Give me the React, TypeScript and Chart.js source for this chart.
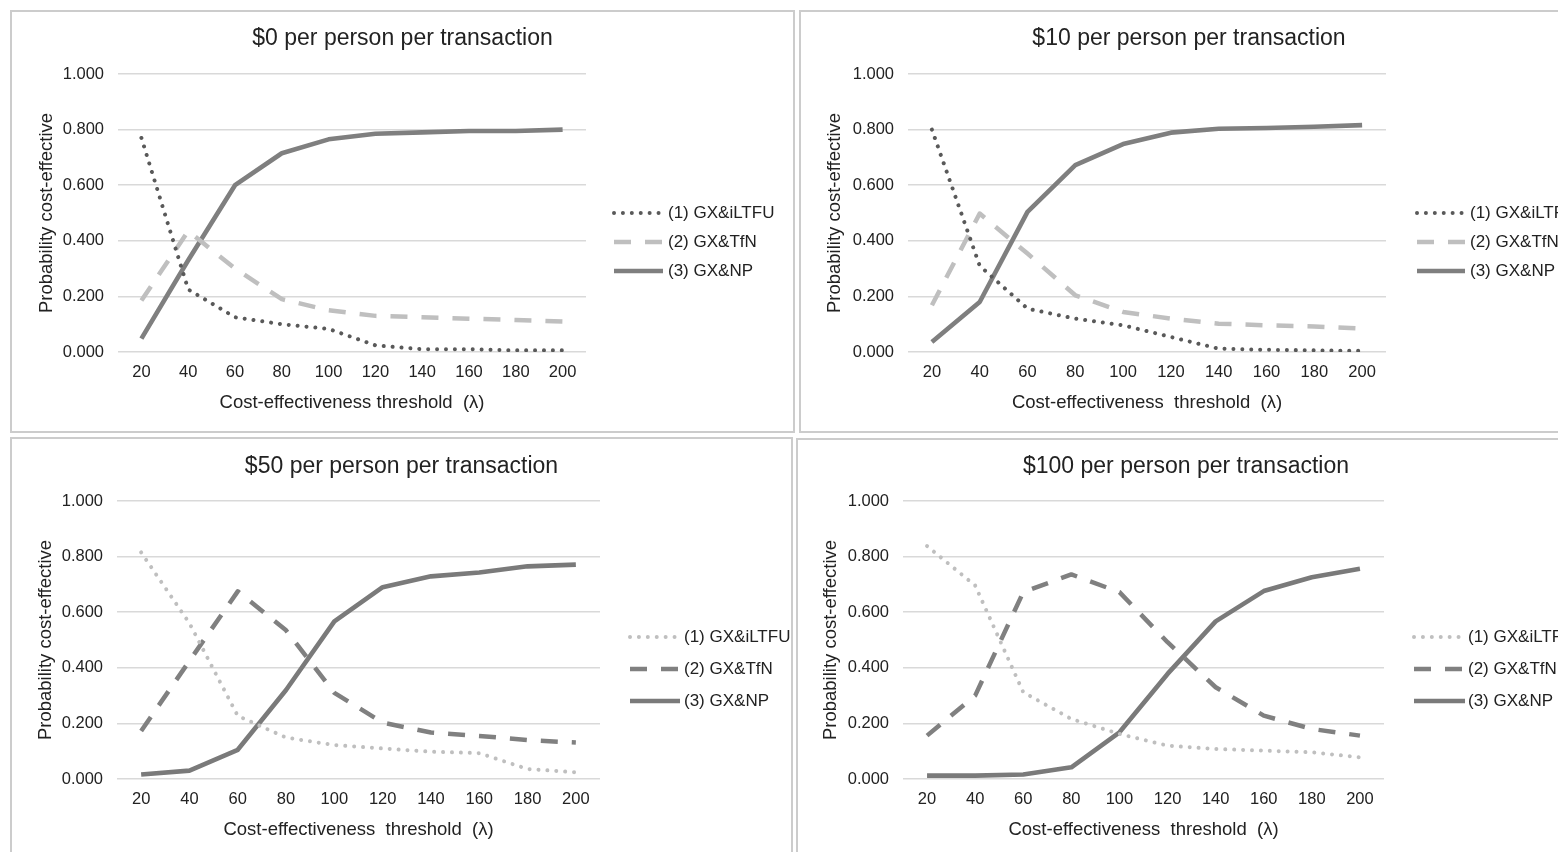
import React, { useEffect, useRef } from "react";
import { Chart, registerables } from "chart.js";

Chart.register(...registerables);
Chart.defaults.font.family = "'Liberation Sans', Arial, sans-serif";

// ---------- DATA ----------
const thresholds = ["20", "40", "60", "80", "100", "120", "140", "160", "180", "200"];
const seriesNames = ["(1) GX&iLTFU", "(2) GX&TfN", "(3) GX&NP"];
const yTicks = [0, 0.2, 0.4, 0.6, 0.8, 1.0];

const cost0_iltfu = [0.77, 0.225, 0.125, 0.1, 0.083, 0.024, 0.01, 0.01, 0.006, 0.006];
const cost0_tfn = [0.185, 0.435, 0.3, 0.19, 0.15, 0.13, 0.125, 0.12, 0.115, 0.11];
const cost0_np = [0.048, 0.33, 0.6, 0.715, 0.765, 0.785, 0.79, 0.795, 0.795, 0.8];

const cost10_iltfu = [0.8, 0.31, 0.156, 0.12, 0.096, 0.054, 0.012, 0.008, 0.006, 0.004];
const cost10_tfn = [0.168, 0.498, 0.354, 0.204, 0.144, 0.12, 0.102, 0.096, 0.092, 0.084];
const cost10_np = [0.036, 0.18, 0.504, 0.672, 0.748, 0.789, 0.803, 0.806, 0.81, 0.816];

const cost50_iltfu = [0.815, 0.56, 0.227, 0.149, 0.122, 0.11, 0.098, 0.093, 0.036, 0.024];
const cost50_tfn = [0.173, 0.425, 0.675, 0.535, 0.31, 0.203, 0.167, 0.155, 0.14, 0.131];
const cost50_np = [0.016, 0.03, 0.105, 0.32, 0.567, 0.69, 0.729, 0.743, 0.765, 0.771];

const cost100_iltfu = [0.838, 0.696, 0.312, 0.216, 0.162, 0.12, 0.108, 0.102, 0.096, 0.078];
const cost100_tfn = [0.156, 0.3, 0.672, 0.736, 0.672, 0.492, 0.33, 0.228, 0.18, 0.156];
const cost100_np = [0.012, 0.012, 0.016, 0.042, 0.168, 0.378, 0.567, 0.676, 0.726, 0.756];

// ---------- STYLE / LAYOUT ----------
const TEXT = "#222222";
const GRID = "#d9d9d9";
const FONT = "'Liberation Sans', Arial, sans-serif";

type PanelDef = {
  title: string;
  xTitle: string;
  series: number[][];
  colors: string[];
  outer: { left: number; top: number; width: number; height: number };
  plot: { left: number; right: number; top: number; bottom: number };
  titleY: number;
  yTitleX: number;
  legend: { x0: number; x1: number; textX: number; ys: number[] };
};

const panels: PanelDef[] = [
  {
    title: "$0 per person per transaction",
    xTitle: "Cost-effectiveness threshold  (λ)",
    series: [cost0_iltfu, cost0_tfn, cost0_np],
    colors: ["#595959", "#bfbfbf", "#7f7f7f"],
    outer: { left: 10, top: 10, width: 785, height: 423 },
    plot: { left: 118, right: 586, top: 74, bottom: 352 },
    titleY: 39,
    yTitleX: 47,
    legend: { x0: 614, x1: 663, textX: 668, ys: [213, 242, 271] },
  },
  {
    title: "$10 per person per transaction",
    xTitle: "Cost-effectiveness  threshold  (λ)",
    series: [cost10_iltfu, cost10_tfn, cost10_np],
    colors: ["#595959", "#bfbfbf", "#7f7f7f"],
    outer: { left: 799, top: 10, width: 780, height: 423 },
    plot: { left: 908, right: 1386, top: 74, bottom: 352 },
    titleY: 39,
    yTitleX: 835,
    legend: { x0: 1417, x1: 1465, textX: 1470, ys: [213, 242, 271] },
  },
  {
    title: "$50 per person per transaction",
    xTitle: "Cost-effectiveness  threshold  (λ)",
    series: [cost50_iltfu, cost50_tfn, cost50_np],
    colors: ["#bfbfbf", "#808080", "#7a7a7a"],
    outer: { left: 10, top: 437, width: 783, height: 430 },
    plot: { left: 117, right: 600, top: 501, bottom: 779 },
    titleY: 467,
    yTitleX: 46,
    legend: { x0: 630, x1: 680, textX: 684, ys: [637, 669, 701] },
  },
  {
    title: "$100 per person per transaction",
    xTitle: "Cost-effectiveness  threshold  (λ)",
    series: [cost100_iltfu, cost100_tfn, cost100_np],
    colors: ["#bfbfbf", "#808080", "#7a7a7a"],
    outer: { left: 796, top: 438, width: 780, height: 430 },
    plot: { left: 903, right: 1384, top: 501, bottom: 779 },
    titleY: 467,
    yTitleX: 831,
    legend: { x0: 1414, x1: 1465, textX: 1468, ys: [637, 669, 701] },
  },
];

const dashStyles = [
  { dash: [0.01, 8.9], cap: "round", width: 4 },
  { dash: [17, 14], cap: "butt", width: 4.5 },
  { dash: [], cap: "butt", width: 4.6 },
];

const sideLegend = {
  id: "sideLegend",
  afterDraw(chart: any, _args: any, opts: any) {
    const { ctx } = chart;
    chart.data.datasets.forEach((ds: any, i: number) => {
      const y = opts.ys[i];
      ctx.save();
      ctx.strokeStyle = ds.borderColor;
      ctx.lineWidth = ds.borderWidth;
      ctx.lineCap = ds.borderCapStyle || "butt";
      ctx.setLineDash(ds.borderDash || []);
      ctx.beginPath();
      ctx.moveTo(opts.x0, y);
      ctx.lineTo(opts.x1, y);
      ctx.stroke();
      ctx.setLineDash([]);
      ctx.fillStyle = TEXT;
      ctx.font = "17px " + FONT;
      ctx.textBaseline = "middle";
      ctx.textAlign = "left";
      ctx.fillText(ds.label, opts.textX, y);
      ctx.restore();
    });
  },
};

function Panel({ def }: { def: PanelDef }) {
  const ref = useRef<HTMLCanvasElement | null>(null);
  const W = def.outer.width - 4;
  const H = def.outer.height - 4;
  const ox = def.outer.left + 2;
  const oy = def.outer.top + 2;

  useEffect(() => {
    if (!ref.current) return;
    const plotLeft = def.plot.left - ox;
    const plotRight = def.plot.right - ox;
    const plotTop = def.plot.top - oy;
    const plotBottom = def.plot.bottom - oy;
    const titleCy = def.titleY - oy;
    const xAxisH = 62;
    const titleSize = 23;
    const titleLH = titleSize * 1.2;
    const axisTitleSize = 18.5;
    const chart = new Chart(ref.current, {
      type: "line",
      data: {
        labels: thresholds,
        datasets: def.series.map((vals, i) => ({
          label: seriesNames[i],
          data: vals,
          borderColor: def.colors[i],
          backgroundColor: def.colors[i],
          borderWidth: dashStyles[i].width,
          borderDash: dashStyles[i].dash,
          borderCapStyle: dashStyles[i].cap as any,
          borderJoinStyle: "round" as any,
          pointRadius: 0,
          tension: 0,
          fill: false,
        })),
      },
      options: {
        responsive: false,
        animation: false,
        devicePixelRatio: 1,
        layout: { padding: { left: 0, right: 0, top: 0, bottom: H - (plotBottom + xAxisH) } },
        plugins: {
          legend: { display: false },
          tooltip: { enabled: false },
          title: {
            display: true,
            text: def.title,
            color: TEXT,
            font: { size: titleSize, weight: "normal" as any },
            padding: { top: titleCy - titleLH / 2, bottom: plotTop - titleCy - titleLH / 2 },
          },
          sideLegend: {
            x0: def.legend.x0 - ox,
            x1: def.legend.x1 - ox,
            textX: def.legend.textX - ox,
            ys: def.legend.ys.map((y) => y - oy),
          },
        } as any,
        scales: {
          x: {
            type: "category",
            offset: true,
            grid: { display: false, drawTicks: false },
            border: { display: false },
            ticks: { color: TEXT, font: { size: 16.5 }, padding: 11, maxRotation: 0, autoSkip: false },
            title: {
              display: true,
              text: def.xTitle,
              color: TEXT,
              font: { size: axisTitleSize },
              padding: { top: 0, bottom: 0 },
            },
            afterFit: (s: any) => {
              s.height = xAxisH;
            },
          },
          y: {
            type: "linear",
            min: 0,
            max: 1,
            afterBuildTicks: (s: any) => {
              s.ticks = yTicks.map((v) => ({ value: v }));
            },
            ticks: {
              color: TEXT,
              font: { size: 16.5 },
              padding: 14,
              callback: (v: any) => Number(v).toFixed(3),
            },
            grid: { color: GRID, lineWidth: 1.5, drawTicks: false },
            border: { display: false },
            title: {
              display: true,
              text: "Probability cost-effective",
              color: TEXT,
              font: { size: axisTitleSize },
              padding: { top: def.yTitleX - ox - (axisTitleSize * 1.2) / 2, bottom: 0 },
            },
            afterFit: (s: any) => {
              s.width = plotLeft;
            },
          },
          yR: {
            type: "linear",
            position: "right",
            display: true,
            grid: { display: false },
            border: { display: false },
            ticks: { display: false },
            afterFit: (s: any) => {
              s.width = W - plotRight;
            },
          },
        } as any,
      },
      plugins: [sideLegend],
    });
    return () => chart.destroy();
  }, []);

  return (
    <div
      style={{
        position: "absolute",
        left: def.outer.left,
        top: def.outer.top,
        width: def.outer.width,
        height: def.outer.height,
        border: "2px solid #cccccc",
        boxSizing: "border-box",
        background: "#ffffff",
      }}
    >
      <canvas
        ref={ref}
        width={W}
        height={H}
        style={{ position: "absolute", left: 0, top: 0, width: W, height: H }}
      />
    </div>
  );
}

export default function App() {
  return (
    <div
      style={{
        position: "absolute",
        left: 0,
        top: 0,
        width: 1558,
        height: 852,
        overflow: "hidden",
        background: "#ffffff",
      }}
    >
      {panels.map((p, i) => (
        <Panel key={i} def={p} />
      ))}
    </div>
  );
}
